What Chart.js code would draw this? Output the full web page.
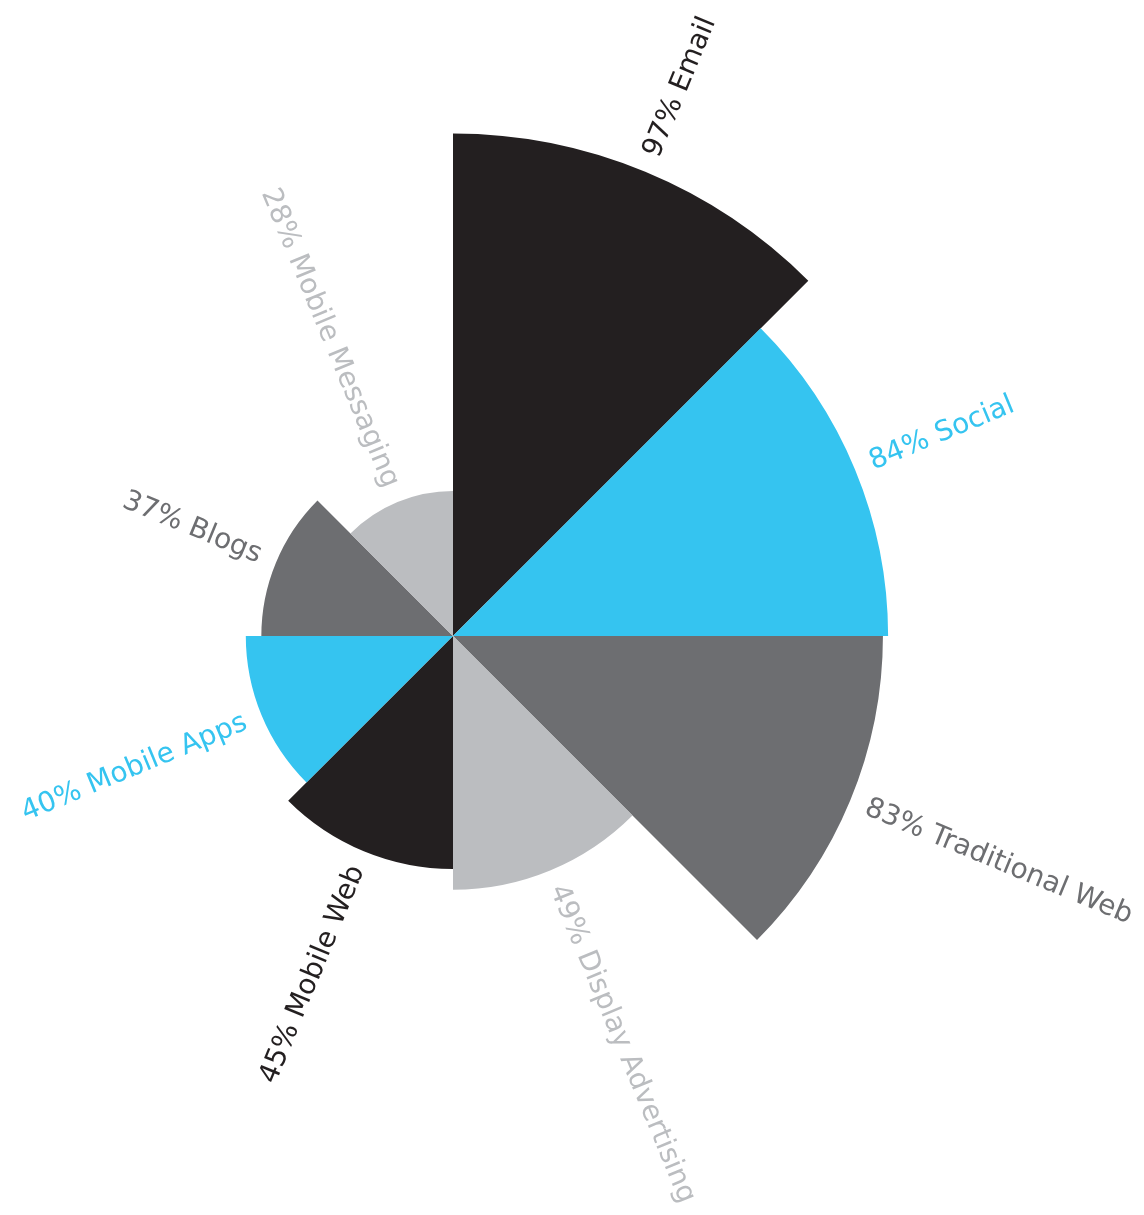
<!DOCTYPE html>
<html>
<head>
<meta charset="utf-8">
<script src="https://cdn.jsdelivr.net/npm/chart.js@4.4.1/dist/chart.umd.min.js"></script>
<style>
    html, body { margin: 0; padding: 0; background: #fff; overflow: hidden; }
    #wrap { position: absolute; left: -80px; top: 0; width: 1224px; height: 1215px; }
</style>
</head>
<body>
<div id="wrap"><canvas id="chart"></canvas></div>
<script>
// channels, clockwise from 12 o'clock
const channels = ['Email', 'Social', 'Traditional Web', 'Display Advertising',
    'Mobile Web', 'Mobile Apps', 'Blogs', 'Mobile Messaging'];
const shares = [97, 84, 83, 49, 45, 40, 37, 28];
const sliceColors = ['#231f20', '#35c4f0', '#6d6e71', '#bbbdc0',
    '#231f20', '#35c4f0', '#6d6e71', '#bbbdc0'];

// rotated text outside each slice, reading along the radius
const sliceLabels = {
    id: 'sliceLabels',
    afterDatasetsDraw(chart) {
        const ctx = chart.ctx;
        const meta = chart.getDatasetMeta(0);
        ctx.save();
        ctx.font = '400 28px "DejaVu Sans", sans-serif';
        ctx.textBaseline = 'middle';
        meta.data.forEach((arc, i) => {
            const a = (arc.startAngle + arc.endAngle) / 2;
            const r = arc.outerRadius + 17;
            const x = arc.x + r * Math.cos(a);
            const y = arc.y + r * Math.sin(a);
            const right = Math.cos(a) > 0;
            ctx.save();
            ctx.translate(x, y);
            ctx.rotate(right ? a : a + Math.PI);
            ctx.textAlign = right ? 'left' : 'right';
            ctx.fillStyle = sliceColors[i];
            ctx.fillText(shares[i] + '% ' + channels[i], 0, 0);
            ctx.restore();
        });
        ctx.restore();
    }
};

new Chart(document.getElementById('chart'), {
    type: 'polarArea',
    data: {
        labels: channels,
        datasets: [{
            data: shares,
            backgroundColor: sliceColors,
            borderWidth: 0
        }]
    },
    options: {
        responsive: true,
        maintainAspectRatio: false,
        animation: false,
        layout: { padding: { left: 15, right: 173, top: 118, bottom: 61 } },
        scales: {
            r: {
                min: 0,
                max: 100,
                display: false
            }
        },
        plugins: {
            legend: { display: false },
            tooltip: { enabled: false }
        }
    },
    plugins: [sliceLabels]
});
</script>
</body>
</html>
